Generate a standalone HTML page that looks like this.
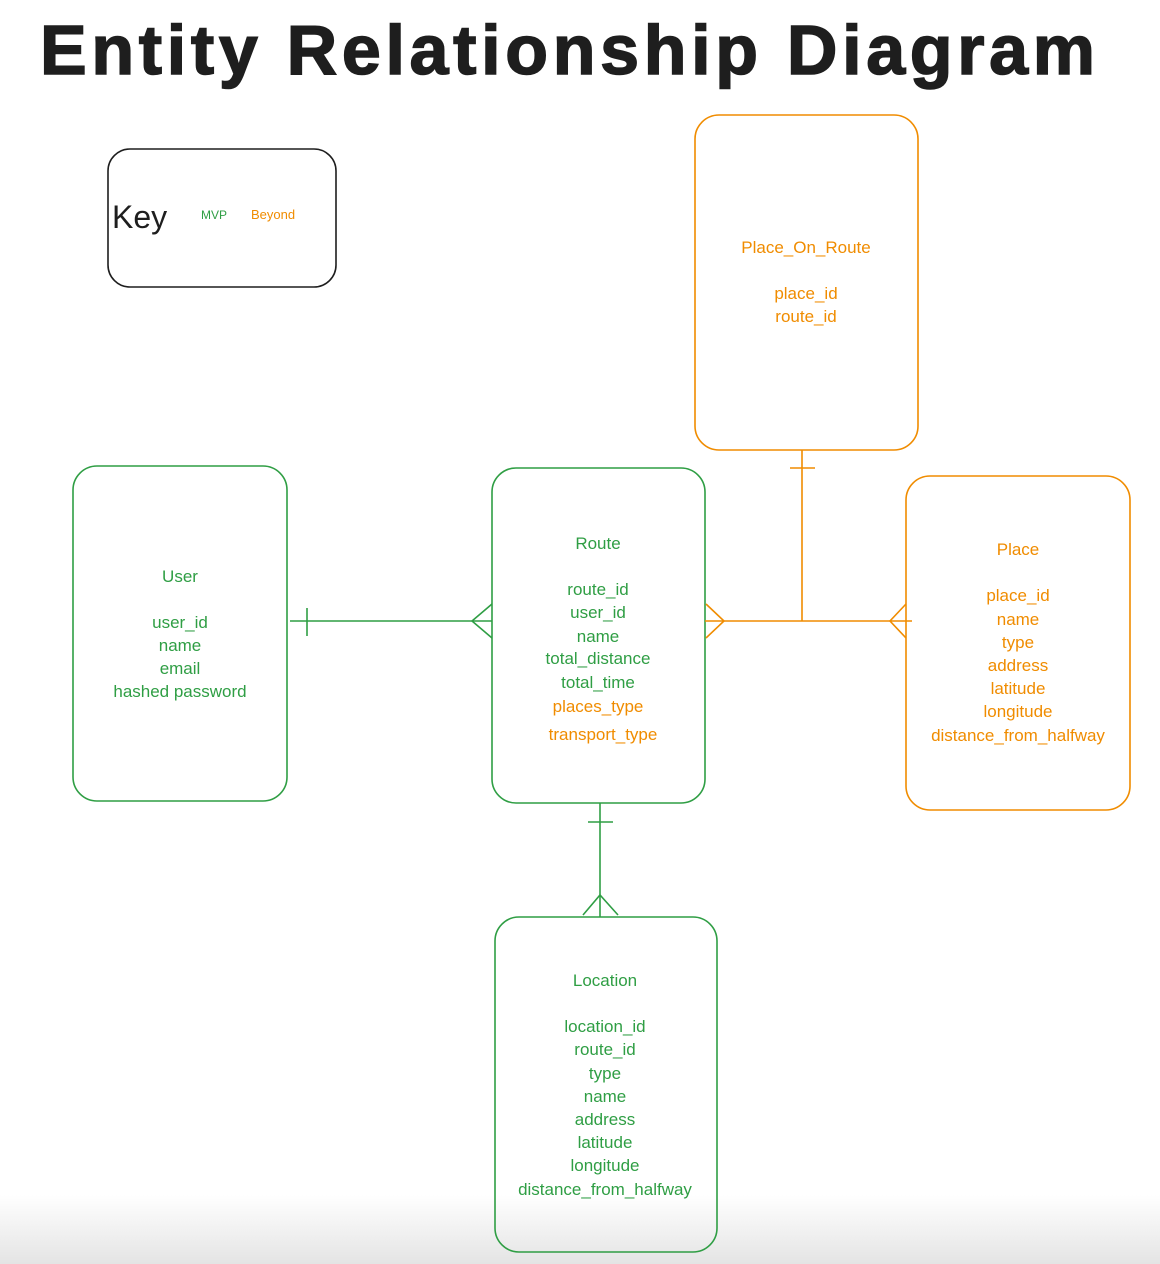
<!DOCTYPE html>
<html><head><meta charset="utf-8"><style>
html,body{margin:0;padding:0;width:1160px;height:1264px;overflow:hidden;background:#fff}
svg{display:block}
text{font-family:"Liberation Sans",sans-serif}
</style></head><body>
<svg width="1160" height="1264" viewBox="0 0 1160 1264" xmlns="http://www.w3.org/2000/svg">
<defs><linearGradient id="g" x1="0" y1="0" x2="0" y2="1">
<stop offset="0" stop-color="#fff"/><stop offset="1" stop-color="#e4e4e4"/></linearGradient></defs>
<rect x="0" y="1195" width="1160" height="69" fill="url(#g)"/>
<text x="40" y="74" font-size="70" fill="#1e1e1e" stroke="#1e1e1e" stroke-width="1.5" font-weight="bold" textLength="1055" lengthAdjust="spacing" font-family="'DejaVu Sans',sans-serif">Entity Relationship Diagram</text>

<g fill="none" stroke-width="1.6">
<rect x="108" y="149" width="228" height="138" rx="22" stroke="#1e1e1e"/>
<rect x="695" y="115" width="223" height="335" rx="24" stroke="#f08c00"/>
<rect x="73" y="466" width="214" height="335" rx="24" stroke="#2f9e44"/>
<rect x="492" y="468" width="213" height="335" rx="24" stroke="#2f9e44"/>
<rect x="906" y="476" width="224" height="334" rx="24" stroke="#f08c00"/>
<rect x="495" y="917" width="222" height="335" rx="24" stroke="#2f9e44"/>
<g stroke="#2f9e44">
<line x1="290" y1="621" x2="492" y2="621"/>
<line x1="307" y1="608" x2="307" y2="636"/>
<polyline points="492,604 472,621 492,638"/>
<line x1="600" y1="803" x2="600" y2="917"/>
<line x1="588" y1="822" x2="613" y2="822"/>
<polyline points="583,915 600,895 618,915"/>
</g>
<g stroke="#f08c00">
<line x1="705" y1="621" x2="912" y2="621"/>
<polyline points="706,604 724,621 706,638"/>
<polyline points="906,604 890,621 906,638"/>
<line x1="802" y1="450" x2="802" y2="621"/>
<line x1="790" y1="468" x2="815" y2="468"/>
</g>
</g>

<text x="112" y="228" font-size="32" fill="#1e1e1e">Key</text>
<text x="201" y="219" font-size="12" fill="#2f9e44">MVP</text>
<text x="251" y="219" font-size="13" fill="#f08c00">Beyond</text>

<g font-size="17" text-anchor="middle">
<g fill="#f08c00">
<text x="806" y="253">Place_On_Route</text>
<text x="806" y="299">place_id</text>
<text x="806" y="322">route_id</text>
</g>
<g fill="#2f9e44">
<text x="180" y="582">User</text>
<text x="180" y="628">user_id</text>
<text x="180" y="651">name</text>
<text x="180" y="674">email</text>
<text x="180" y="697">hashed password</text>
<text x="598" y="549">Route</text>
<text x="598" y="595">route_id</text>
<text x="598" y="618">user_id</text>
<text x="598" y="642">name</text>
<text x="598" y="664">total_distance</text>
<text x="598" y="688">total_time</text>
</g>
<g fill="#f08c00">
<text x="598" y="712">places_type</text>
<text x="603" y="740">transport_type</text>
<text x="1018" y="555">Place</text>
<text x="1018" y="601">place_id</text>
<text x="1018" y="625">name</text>
<text x="1018" y="648">type</text>
<text x="1018" y="671">address</text>
<text x="1018" y="694">latitude</text>
<text x="1018" y="717">longitude</text>
<text x="1018" y="741">distance_from_halfway</text>
</g>
<g fill="#2f9e44">
<text x="605" y="986">Location</text>
<text x="605" y="1032">location_id</text>
<text x="605" y="1055">route_id</text>
<text x="605" y="1079">type</text>
<text x="605" y="1102">name</text>
<text x="605" y="1125">address</text>
<text x="605" y="1148">latitude</text>
<text x="605" y="1171">longitude</text>
<text x="605" y="1195">distance_from_halfway</text>
</g>
</g>
</svg>
</body></html>
